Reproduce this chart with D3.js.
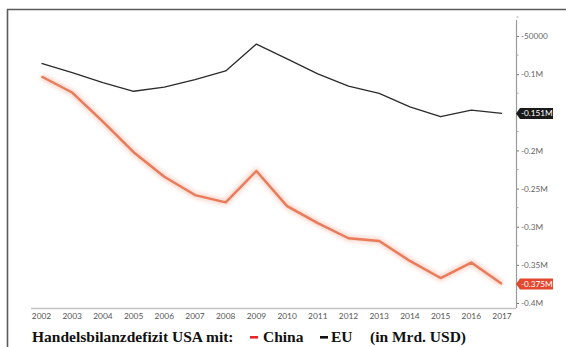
<!DOCTYPE html>
<html>
<head>
<meta charset="utf-8">
<script src="https://cdn.jsdelivr.net/npm/d3@7"></script>
<style>
  html, body { margin: 0; padding: 0; background: #fff; }
  svg { display: block; }
</style>
</head>
<body>
<svg id="chart" width="566" height="347"></svg>
<script>
// US trade deficit in goods, millions of USD
const years = [2002, 2003, 2004, 2005, 2006, 2007, 2008, 2009, 2010, 2011, 2012, 2013, 2014, 2015, 2016, 2017];
const chinaValues = [-103100, -124100, -162300, -202300, -234400, -258500, -268000, -226900, -273000, -295300, -315100, -318700, -344800, -367300, -347000, -375000];
const euValues = [-85700, -98000, -111000, -122400, -117000, -107100, -95800, -60500, -79900, -99600, -115700, -125200, -142900, -155800, -147100, -151400];
const yTickValues = [-50000, -100000, -150000, -200000, -250000, -300000, -350000, -400000];
const yMinorTicks = [-25000, -75000, -125000, -175000, -225000, -275000, -325000, -375000];
const legendTitle = "Handelsbilanzdefizit USA mit:";
const legendChina = "China";
const legendEU = "EU";
const legendUnit = "(in Mrd. USD)";

const svg = d3.select("#chart");

const x = d3.scaleLinear().domain([2002, 2017]).range([41.5, 502]);
const y = d3.scaleLinear().domain([0, -400000]).range([-2.1, 303]);

const euLast = euValues[euValues.length - 1];
const chinaLast = chinaValues[chinaValues.length - 1];

const fmtTick = v => v === -50000 ? "-50000" : (v / 1e6) + "M";
const fmtLast = v => (v / 1e6).toFixed(3) + "M";

// outer frame (top and left rules)
svg.append("path")
  .attr("d", "M7.5,347 V9.5 H566")
  .attr("fill", "none")
  .attr("stroke", "#5a5a5a")
  .attr("stroke-width", 1.6);

// x axis baseline
svg.append("line")
  .attr("x1", 31).attr("x2", 516)
  .attr("y1", 308.5).attr("y2", 308.5)
  .attr("stroke", "#c4c4c4").attr("stroke-width", 1.4);

// x axis year labels
svg.append("g").selectAll("text")
  .data(years)
  .join("text")
  .attr("x", d => x(d))
  .attr("y", 319)
  .attr("text-anchor", "middle")
  .attr("font-family", "Lato, 'DejaVu Sans', sans-serif")
  .attr("font-size", 8.4)
  .attr("fill", "#555")
  .text(d => d);

// right y axis; a tick label sitting under a last-value badge is left out
const hiddenByBadge = v => [euLast, chinaLast].some(l => Math.abs(y(v) - y(l)) < 9);
const yAxis = d3.axisRight(y)
  .tickValues(yTickValues)
  .tickFormat(v => hiddenByBadge(v) ? "" : fmtTick(v))
  .tickSize(3)
  .tickPadding(2);

const gy = svg.append("g")
  .attr("transform", "translate(516,0)")
  .call(yAxis);
gy.select(".domain").remove();
gy.selectAll(".tick line").attr("stroke", "#777");
gy.selectAll(".tick text")
  .attr("font-family", "Lato, 'DejaVu Sans', sans-serif")
  .attr("font-size", 8.2)
  .attr("fill", "#666");

svg.append("line")
  .attr("x1", 516.5).attr("x2", 516.5)
  .attr("y1", 20).attr("y2", 308)
  .attr("stroke", "#9a9a9a").attr("stroke-width", 1.2);

svg.append("g").selectAll("line")
  .data(yMinorTicks)
  .join("line")
  .attr("x1", 516.5).attr("x2", 518.5)
  .attr("y1", d => y(d)).attr("y2", d => y(d))
  .attr("stroke", "#aaa");

// soft glow used under the China series
const defs = svg.append("defs");
defs.append("filter").attr("id", "glow")
  .attr("x", "-5%").attr("y", "-5%").attr("width", "110%").attr("height", "110%")
  .append("feGaussianBlur").attr("stdDeviation", 2);

const line = d3.line()
  .x((d, i) => x(years[i]))
  .y(d => y(d));

svg.append("path")
  .datum(chinaValues)
  .attr("d", line)
  .attr("fill", "none")
  .attr("stroke", "#f3b8a4")
  .attr("stroke-width", 6)
  .attr("stroke-linejoin", "round")
  .attr("opacity", 0.6)
  .attr("filter", "url(#glow)");

svg.append("path")
  .datum(chinaValues)
  .attr("d", line)
  .attr("fill", "none")
  .attr("stroke", "#e97a5a")
  .attr("stroke-width", 2.4)
  .attr("stroke-linejoin", "round");

svg.append("path")
  .datum(euValues)
  .attr("d", line)
  .attr("fill", "none")
  .attr("stroke", "#2b2b2b")
  .attr("stroke-width", 1.3)
  .attr("stroke-linejoin", "round");

// last-value badges on the right axis
function badge(value, fill) {
  const cy = y(value);
  const g = svg.append("g");
  g.append("path")
    .attr("d", `M516,${cy} L520,${cy - 5.5} H553 V${cy + 5.5} H520 Z`)
    .attr("fill", fill);
  g.append("text")
    .attr("x", 521)
    .attr("y", cy + 3)
    .attr("font-family", "Lato, 'DejaVu Sans', sans-serif")
    .attr("font-size", 8.2)
    .attr("fill", "#fff")
    .text(fmtLast(value));
}
badge(euLast, "#1a1a1a");
badge(chinaLast, "#e2492f");

// caption with legend
const capFont = "'Liberation Serif', 'Times New Roman', serif";
const capY = 342;
function capText(xPos, str) {
  svg.append("text")
    .attr("x", xPos)
    .attr("y", capY)
    .attr("font-family", capFont)
    .attr("font-weight", "bold")
    .attr("font-size", 15.5)
    .attr("fill", "#111")
    .text(str);
}
capText(32, legendTitle);
capText(263, legendChina);
capText(331, legendEU);
capText(370, legendUnit);

// legend swatches
svg.append("rect").attr("x", 250).attr("y", capY - 6).attr("width", 8).attr("height", 2.6).attr("fill", "#e8262a");
svg.append("rect").attr("x", 320).attr("y", capY - 6).attr("width", 8).attr("height", 2.6).attr("fill", "#111");
</script>
</body>
</html>
